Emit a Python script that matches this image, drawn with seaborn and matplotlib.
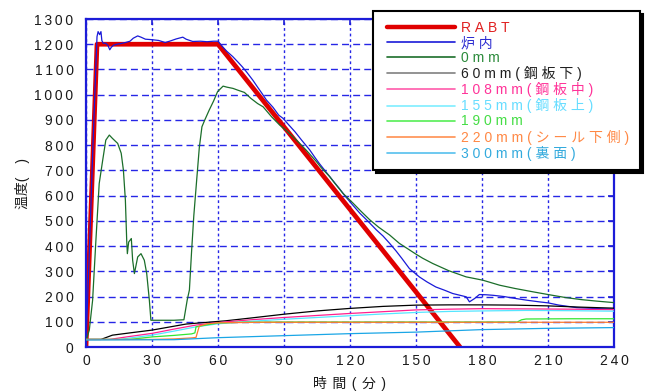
import matplotlib
matplotlib.use("Agg")
import matplotlib.pyplot as plt
from matplotlib.lines import Line2D
from matplotlib.legend_handler import HandlerLine2D
import seaborn as sns

# ---- data: time (min) and temperature (deg C) per measuring point ----
rabt_t = [0, 5, 60, 170]
rabt_v = [0, 1200, 1200, 0]

furnace_t = [0, 1, 2, 3, 4, 5, 5.5, 6.2, 6.8, 7.2, 7.8, 9, 10, 10.8, 11.5, 12.5, 14, 16, 18,
             20, 21.5, 23.5, 25, 27, 30, 33, 36, 38, 41, 44, 45.5, 48.5, 52, 55, 58, 60, 62,
             64, 66.7, 69, 71, 73, 75.8, 78, 80, 82, 85, 87.6, 89.6, 92, 95, 98, 101.7, 104,
             106, 109, 112, 115, 118, 121, 124.5, 128, 132, 135, 138, 141, 143.5, 147, 151.5,
             155, 159, 163, 166.7, 170, 172.8, 174.3, 176.6, 178.8, 182, 185, 190, 195.5, 200,
             206, 210, 215, 220, 223, 228, 233.5, 240]
furnace_v = [20, 250, 500, 760, 1000, 1230, 1250, 1238, 1250, 1215, 1204, 1204, 1195, 1178,
             1188, 1196, 1200, 1203, 1207, 1212, 1224, 1233, 1228, 1220, 1218, 1215, 1207, 1212,
             1221, 1228, 1220, 1211, 1212, 1210, 1212, 1212, 1191, 1172, 1151, 1130, 1111, 1090,
             1058, 1030, 1005, 979, 950, 919, 906, 882, 853, 820, 781, 752, 728, 695, 662, 630,
             596, 565, 530, 500, 464, 440, 411, 380, 352, 311, 278, 258, 238, 225, 212, 205,
             199, 179, 192, 208, 207, 205, 200, 192, 186, 179, 175, 166, 160, 156, 154, 152, 150]

d0_t = [0, 1.5, 3, 4.5, 6, 7.6, 9, 10.6, 12, 14.4, 16, 17, 17.9, 18.5, 18.8, 19.4, 20.6, 21.2,
        22, 23.5, 25, 26.5, 27.6, 28.8, 29.5, 30.3, 35, 40, 44.5, 46, 47, 48, 49, 50.3, 51.5,
        52.7, 54, 56, 58, 59.8, 62.3, 64, 66.8, 69, 72, 75, 78, 80.5, 84.3, 88, 91, 94, 97,
        100, 104.7, 107, 110.8, 113, 116.8, 121.4, 125, 129, 133, 138, 142.4, 147, 150, 153,
        157.6, 165, 172.8, 180.3, 188, 195, 203, 210, 218, 225, 232, 240]
d0_v = [25, 67, 185, 423, 648, 741, 820, 840, 827, 807, 768, 701, 582, 423, 370, 416, 430, 344,
        291, 357, 370, 344, 291, 185, 106, 106, 106, 106, 108, 186, 226, 380, 520, 661, 790,
        873, 900, 939, 975, 1012, 1034, 1030, 1025, 1018, 1009, 985, 965, 952, 913, 880, 858,
        834, 808, 781, 735, 710, 675, 650, 609, 570, 538, 504, 475, 444, 411, 385, 368, 352,
        331, 302, 278, 265, 245, 232, 219, 208, 196, 188, 182, 176]

d60_t = [0, 6.8, 12, 20, 30, 45.5, 63.6, 75, 90, 105, 120, 135, 150, 165, 180, 195, 210, 225, 240]
d60_v = [30, 30, 47, 56, 67, 91, 104, 115, 130, 143, 153, 161, 166, 167, 167, 166, 163, 158, 154]

d108_t = [0, 10.6, 20, 30, 40, 50, 63.6, 75, 90, 105, 120, 135, 150, 165, 180, 200, 220, 240]
d108_v = [30, 30, 42, 54, 71, 87, 100, 108, 117, 125, 133, 140, 147, 150, 152, 151, 150, 148]

d155_t = [0, 15, 30, 40, 50, 60, 75, 90, 105, 120, 135, 150, 165, 180, 200, 220, 240]
d155_v = [30, 30, 47, 63, 80, 92, 102, 110, 117, 124, 131, 137, 141, 143, 145, 144, 142]

d190_t = [0, 19.7, 30, 40, 48, 49.5, 50, 54.5, 60, 70, 90, 120, 150, 180, 196, 198, 200, 220, 240]
d190_v = [30, 30, 40, 46, 52, 56, 80, 87, 95, 98, 99, 99, 99, 99, 99, 108, 111, 112, 112]

d220_t = [0, 30, 40, 48, 50, 51.5, 55, 60, 80, 120, 160, 200, 240]
d220_v = [30, 30, 32, 36, 38, 83, 92, 96, 98, 98, 98, 98, 98]

d300_t = [0, 40, 60, 90, 120, 150, 180, 210, 240]
d300_v = [28, 29, 37, 45, 53, 59, 69, 74, 77]

labels = ["RABT", "炉内", "0mm", "60mm(鋼板下)", "108mm(鋼板中)", "155mm(鋼板上)",
          "190mm", "220mm(シール下側)", "300mm(裏面)"]
line_colors = ["#e00000", "#1a1ad8", "#1b6e2a", "#000000", "#ff1f8e", "#55e6ff",
               "#33e633", "#ff7a2e", "#1aa6e6"]
key_colors = ["#e00000", "#1a1ad8", "#1b6e2a", "#808080", "#ff5aaa", "#7eeeff",
              "#55ee55", "#ff9050", "#55c0ee"]
text_colors = ["#e02020", "#2a2ad0", "#2a8a3a", "#202020", "#ff3399", "#66ddff",
               "#44dd44", "#ff8844", "#33aadd"]
x_ticks = list(range(0, 241, 30))
y_ticks = list(range(0, 1301, 100))

sns.set_style("white")
FAMILY = ["Liberation Sans", "DejaVu Sans", "Noto Sans CJK JP"]
plt.rcParams["font.family"] = FAMILY


def tracked(s, gap="\u2009"):
    """Letter-spaced version of a string."""
    return gap.join(s)


fig = plt.figure(figsize=(6.55, 3.91), dpi=100)
ax = fig.add_axes([0.1313, 0.1125, 0.8061, 0.8389])

series = [(rabt_t, rabt_v), (furnace_t, furnace_v), (d0_t, d0_v), (d60_t, d60_v),
          (d108_t, d108_v), (d155_t, d155_v), (d190_t, d190_v), (d220_t, d220_v),
          (d300_t, d300_v)]
widths = [3.4] + [0.9] * 8
for (t, v), lab, col, lw in zip(series, labels, line_colors, widths):
    sns.lineplot(x=t, y=v, ax=ax, color=col, lw=lw, label=lab, estimator=None,
                 sort=False, zorder=2 if lab == "RABT" else 3)

ax.set_xlim(0, 240)
ax.set_ylim(0, 1300)
ax.set_xticks(x_ticks)
ax.set_yticks(y_ticks)
ax.set_xticklabels([tracked(str(v)) for v in x_ticks])
ax.set_yticklabels([tracked(str(v)) for v in y_ticks])

grid_blue = "#2626e6"
ax.yaxis.grid(True, color=grid_blue, lw=1.0, ls=(0, (5, 3)))
ax.xaxis.grid(True, color=grid_blue, lw=1.0, ls=(0, (2, 2)))
ax.set_axisbelow(True)
for sp in ax.spines.values():
    sp.set_color("#1c1cd8")
    sp.set_linewidth(1.6)
ax.tick_params(axis="both", direction="in", length=4, width=1.2, color="#1c1cd8",
               top=True, right=True, labelsize=10, labelcolor="#1a1a1a")
ax.tick_params(axis="y", pad=9)
ax.tick_params(axis="x", pad=5)

ax.set_xlabel(tracked("時間(分)", "\u2009\u2009"), fontsize=10, color="#1a1a1a", labelpad=6)
ax.set_ylabel("温度(\u3000)", fontsize=10, color="#1a1a1a", labelpad=3)

# legend keys: same colours as the curves, thin strokes
keys = [Line2D([], [], color=c, lw=(3.2 if i == 0 else 1.2)) for i, c in enumerate(key_colors)]
ax.get_legend().remove()
leg = fig.legend(keys, [tracked(l, "\u2009\u200a") for l in labels], loc="upper left",
                 bbox_to_anchor=(373 / 655, 1 - 15 / 391, 267 / 655, 0.01),
                 bbox_transform=fig.transFigure, mode="expand", borderaxespad=0,
                 fontsize=10, handlelength=5.2, handletextpad=0.45, labelspacing=0.08,
                 borderpad=0.7, fancybox=False, framealpha=1, edgecolor="black",
                 shadow={"color": "black", "alpha": 1.0},
                 handler_map={Line2D: HandlerLine2D(xpad=0.3)})
leg.get_frame().set_linewidth(1.5)
for txt, c in zip(leg.get_texts(), text_colors):
    txt.set_color(c)

fig.savefig("out.png", dpi=100)
